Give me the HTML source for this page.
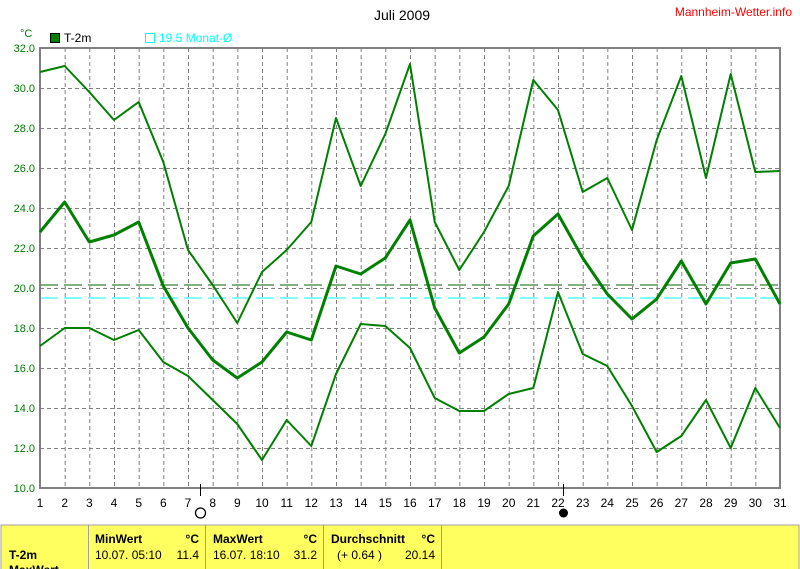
<!DOCTYPE html>
<html><head><meta charset="utf-8"><style>
html,body{margin:0;padding:0;background:#fff;}
body{width:800px;height:569px;overflow:hidden;position:relative;font-family:"Liberation Sans",sans-serif;}
</style></head><body>
<svg width="800" height="569" viewBox="0 0 800 569" xmlns="http://www.w3.org/2000/svg" style="position:absolute;left:0;top:0">
<text x="402" y="20" font-size="14" text-anchor="middle" fill="#000">Juli 2009</text>
<text x="792" y="16" font-size="12" text-anchor="end" fill="#ff0000">Mannheim-Wetter.info</text>
<text x="20" y="37" font-size="11" fill="#008000">°C</text>
<rect x="50.5" y="33.5" width="9" height="9" fill="#008000" stroke="#000"/>
<text x="64" y="42" font-size="12" fill="#000">T-2m</text>
<rect x="145.5" y="33.5" width="9" height="9" fill="none" stroke="#00ffff"/>
<text x="159" y="42" font-size="12" fill="#00ffff">19.5 Monat-Ø</text>
<g id="grid" stroke="#808080" stroke-dasharray="4,3" stroke-width="1"></g>
<g stroke="#808080" stroke-width="1" stroke-dasharray="4,3" fill="none">
<path d="M40 88.5H780M40 128.5H780M40 168.5H780M40 208.5H780M40 248.5H780M40 288.5H780M40 328.5H780M40 368.5H780M40 408.5H780M40 448.5H780"/>
<path d="M65.2 48V488M89.8 48V488M114.5 48V488M139.2 48V488M163.8 48V488M188.5 48V488M213.2 48V488M237.8 48V488M262.5 48V488M287.2 48V488M311.8 48V488M336.5 48V488M361.2 48V488M385.8 48V488M410.5 48V488M435.2 48V488M459.8 48V488M484.5 48V488M509.2 48V488M533.8 48V488M558.5 48V488M583.2 48V488M607.8 48V488M632.5 48V488M657.2 48V488M681.8 48V488M706.5 48V488M731.2 48V488M755.8 48V488"/>
</g>
<line x1="40" y1="285" x2="780" y2="285" stroke="#006400" stroke-width="1" stroke-dasharray="18,6"/>
<line x1="40" y1="298" x2="780" y2="298" stroke="#00ffff" stroke-width="1" stroke-dasharray="18,6"/>
<path d="M40 48H780V488H40Z" fill="none" stroke="#808080" stroke-width="2"/>
<g fill="#008000" font-size="11" text-anchor="end">
<text x="35" y="52">32.0</text><text x="35" y="92">30.0</text><text x="35" y="132">28.0</text><text x="35" y="172">26.0</text><text x="35" y="212">24.0</text><text x="35" y="252">22.0</text><text x="35" y="292">20.0</text><text x="35" y="332">18.0</text><text x="35" y="372">16.0</text><text x="35" y="412">14.0</text><text x="35" y="452">12.0</text><text x="35" y="492">10.0</text>
</g>
<g fill="#000" font-size="12" text-anchor="middle" id="xl">
<text x="40" y="507">1</text><text x="64.7" y="507">2</text><text x="89.3" y="507">3</text><text x="114" y="507">4</text><text x="138.7" y="507">5</text><text x="163.3" y="507">6</text><text x="188" y="507">7</text><text x="212.7" y="507">8</text><text x="237.3" y="507">9</text><text x="262" y="507">10</text><text x="286.7" y="507">11</text><text x="311.3" y="507">12</text><text x="336" y="507">13</text><text x="360.7" y="507">14</text><text x="385.3" y="507">15</text><text x="410" y="507">16</text><text x="434.7" y="507">17</text><text x="459.3" y="507">18</text><text x="484" y="507">19</text><text x="508.7" y="507">20</text><text x="533.3" y="507">21</text><text x="558" y="507">22</text><text x="582.7" y="507">23</text><text x="607.3" y="507">24</text><text x="632" y="507">25</text><text x="656.7" y="507">26</text><text x="681.3" y="507">27</text><text x="706" y="507">28</text><text x="730.7" y="507">29</text><text x="755.3" y="507">30</text><text x="780" y="507">31</text>
</g>
<line x1="200.5" y1="484" x2="200.5" y2="496" stroke="#000"/>
<circle cx="200.5" cy="513" r="5" fill="#fff" stroke="#000" stroke-width="1.3"/>
<line x1="563.5" y1="484" x2="563.5" y2="496" stroke="#000"/>
<circle cx="563.5" cy="513" r="4.5" fill="#000"/>
<g fill="none" stroke="#008000" stroke-linejoin="round">
<polyline stroke-width="2" points="40,72 64.7,66 89.3,92 114,120 138.7,102 163.3,162 188,250 212.7,285 237.3,323 262,272 286.7,250 311.3,222 336,118 360.7,186 385.3,134 410,64 434.7,222 459.3,270 484,232 508.7,186 533.3,80 558,110 582.7,192 607.3,178 632,230 656.7,140 681.3,76 706,178 730.7,74 755.3,172 780,171"/>
<polyline stroke-width="3" points="40,232 64.7,202 89.3,242 114,235 138.7,222 163.3,286 188,328 212.7,360 237.3,378 262,362 286.7,332 311.3,340 336,266 360.7,274 385.3,258 410,220 434.7,308 459.3,353 484,337 508.7,304 533.3,236 558,214 582.7,258 607.3,294 632,319 656.7,299 681.3,261 706,304 730.7,263 755.3,259 780,304"/>
<polyline stroke-width="2" points="40,346 64.7,328 89.3,328 114,340 138.7,330 163.3,362 188,376 212.7,400 237.3,424 262,460 286.7,420 311.3,446 336,374 360.7,324 385.3,326 410,348 434.7,398 459.3,411 484,411 508.7,394 533.3,388 558,292 582.7,354 607.3,366 632,406 656.7,452 681.3,436 706,400 730.7,448 755.3,388 780,428"/>
</g>
<rect x="1" y="525" width="798" height="50" fill="#ffff60" stroke="#a0a0a0"/>
<g stroke="#a0a0a0"><line x1="88.5" y1="525" x2="88.5" y2="569"/><line x1="205.5" y1="525" x2="205.5" y2="569"/><line x1="323.5" y1="525" x2="323.5" y2="569"/><line x1="441.5" y1="525" x2="441.5" y2="569"/></g>
<g font-size="12" fill="#000">
<text x="9" y="559" font-weight="bold">T-2m</text>
<text x="95" y="543" font-weight="bold">MinWert</text><text x="199" y="543" font-weight="bold" text-anchor="end">°C</text>
<text x="95" y="559">10.07.  05:10</text><text x="199" y="559" text-anchor="end">11.4</text>
<text x="213" y="543" font-weight="bold">MaxWert</text><text x="317" y="543" font-weight="bold" text-anchor="end">°C</text>
<text x="213" y="559">16.07.  18:10</text><text x="317" y="559" text-anchor="end">31.2</text>
<text x="331" y="543" font-weight="bold">Durchschnitt</text><text x="435" y="543" font-weight="bold" text-anchor="end">°C</text>
<text x="337" y="559">(+ 0.64 )</text><text x="435" y="559" text-anchor="end">20.14</text>
<text x="9" y="574" font-weight="bold">MaxWert</text>
</g>
</svg>
</body></html>
